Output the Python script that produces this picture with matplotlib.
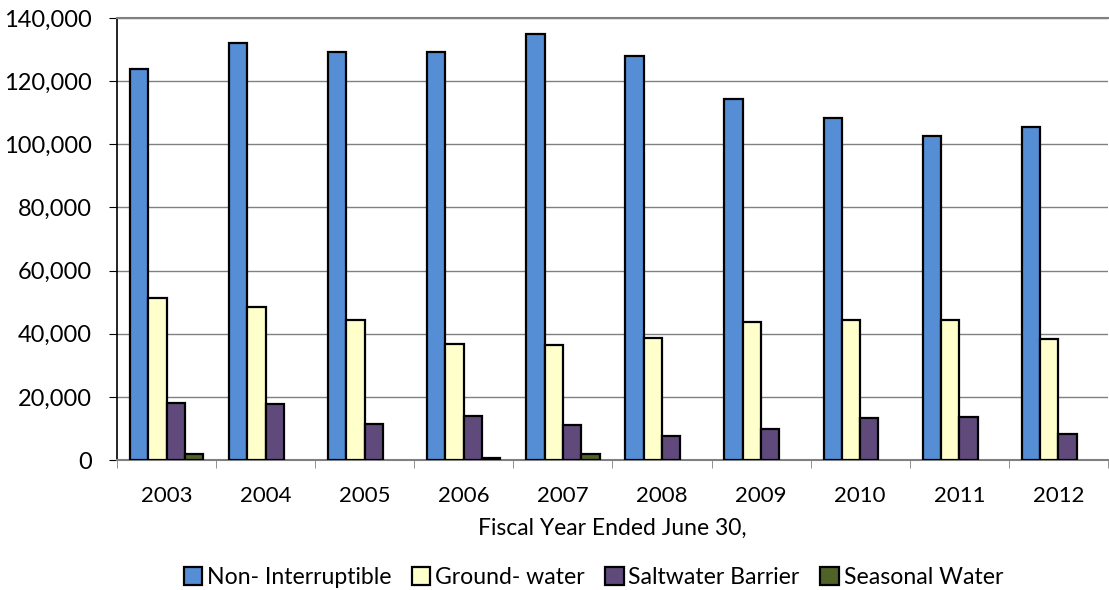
import numpy as np
import matplotlib.pyplot as plt
from matplotlib.ticker import FuncFormatter, FixedLocator

years = ['2003', '2004', '2005', '2006', '2007', '2008', '2009', '2010', '2011', '2012']
non_interruptible = [124000, 132200, 129300, 129200, 134900, 128000, 114300, 108300, 102600, 105400]
ground_water = [51200, 48500, 44300, 36800, 36400, 38800, 43800, 44400, 44200, 38200]
saltwater_barrier = [18000, 17700, 11400, 13800, 11200, 7700, 9800, 13200, 13600, 8100]
seasonal_water = [1900, 0, 0, 500, 2000, 0, 0, 0, 0, 0]

series = [
    ('Non- Interruptible', non_interruptible, '#558ED5'),
    ('Ground- water', ground_water, '#FFFFCC'),
    ('Saltwater Barrier', saltwater_barrier, '#604A7B'),
    ('Seasonal Water', seasonal_water, '#4F6228'),
]

plt.rcParams['font.family'] = ['Lato', 'DejaVu Sans']

fig = plt.figure(figsize=(11.09, 5.90), dpi=100)
ax = fig.add_axes([0.1055, 0.2203, 0.8935, 0.7492])

x = np.arange(len(years))
w = 0.185
for i, (name, vals, col) in enumerate(series):
    vals = np.array(vals, dtype=float)
    # zero values are not drawn at all in the original
    lw = np.where(vals > 0, 1.6, 0.0)
    ax.bar(x + (i - 1.5) * w, vals, w, color=col, edgecolor='black',
           linewidth=lw, label=name, zorder=3)

ax.set_xlim(-0.5, len(years) - 0.5)
ax.set_ylim(0, 140000)
ax.set_yticks(np.arange(0, 140001, 20000))
ax.yaxis.set_major_formatter(FuncFormatter(lambda v, p: f'{int(v):,}'))
ax.grid(axis='y', color='#808080', linewidth=1.0, zorder=0)

ax.set_xticks(x)
ax.set_xticklabels(years)
ax.xaxis.set_minor_locator(FixedLocator(np.arange(-0.5, len(years), 1.0)))
ax.tick_params(axis='x', which='major', length=0, labelsize=16, pad=19)
ax.tick_params(axis='x', which='minor', length=6, color='#808080', direction='out')
ax.tick_params(axis='y', length=6, labelsize=17, direction='out', pad=12)

ax.spines['left'].set_color('black')
ax.spines['left'].set_linewidth(1.2)
ax.spines['bottom'].set_color('#808080')
ax.spines['bottom'].set_linewidth(1.5)
ax.spines['top'].set_color('#808080')
ax.spines['top'].set_linewidth(1.5)
ax.spines['right'].set_visible(False)

ax.set_xlabel('Fiscal Year Ended June 30,', fontsize=16.5, labelpad=8)

leg = fig.legend(loc='lower center', bbox_to_anchor=(0.535, -0.032), ncol=4,
                 frameon=False, fontsize=16.6, handlelength=0.8, handleheight=0.8,
                 handletextpad=0.2, columnspacing=0.9)
for h in leg.legend_handles:
    h.set_linewidth(1.6)

fig.savefig('out.png', dpi=100)
